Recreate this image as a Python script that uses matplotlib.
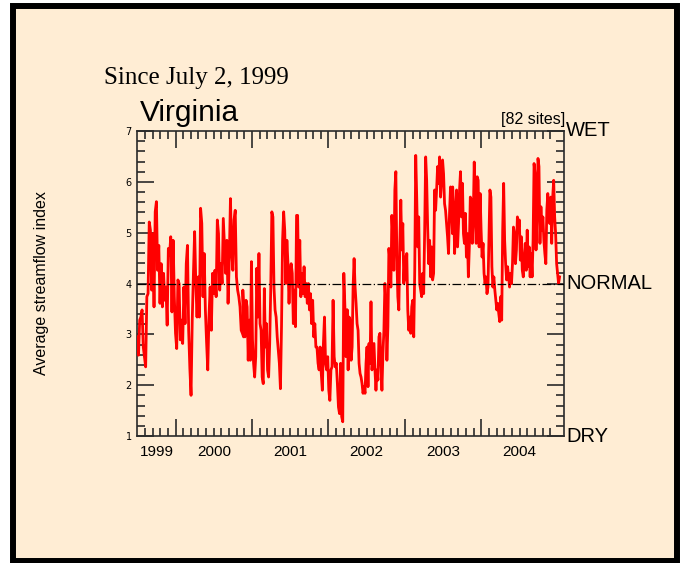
import numpy as np
import matplotlib
matplotlib.use("Agg")
import matplotlib.pyplot as plt
from matplotlib.patches import Rectangle

# average streamflow index, one list per stretch of time
flow_a = [2.95, 2.59, 3.28, 3.34, 3.48, 2.75, 2.56, 2.36, 3.74, 3.80, 5.21, 5.05,
          3.87, 4.98, 3.54, 5.41, 5.61, 4.26, 4.75, 3.61, 4.39, 3.54, 4.20, 3.67,
          3.93, 3.18, 4.69, 4.56, 4.92, 3.44, 4.85, 3.74, 3.02, 2.72, 4.07, 4.00,
          2.89, 3.28, 2.82, 3.93, 3.21, 4.39, 4.75, 3.08, 2.33, 1.80, 3.28, 4.20,
          5.02, 4.00, 3.34, 4.13, 3.34, 5.48, 5.18, 3.74, 4.59, 3.48, 2.85, 2.30,
          3.34, 3.93, 3.08, 4.20, 3.80, 4.26, 3.74, 5.25, 4.98, 3.87, 4.39, 4.00,
          5.28, 4.72, 4.20, 4.85, 3.61, 4.46, 5.67, 4.66, 4.26, 5.25, 5.44, 4.13,
          3.87, 3.74, 3.54, 3.08, 3.02, 2.95]
flow_b = [3.87, 3.08, 2.95, 3.67, 3.54, 2.49, 3.28, 2.49, 4.43, 2.89, 2.43, 2.16,
          2.56, 4.30, 3.34, 4.59, 3.21, 3.08, 2.16, 2.03, 3.90, 2.75, 3.21, 2.30,
          2.16, 2.82, 3.93, 5.41, 5.31, 3.93, 3.48, 3.34, 2.95, 2.69, 2.43, 1.93,
          3.15, 4.85, 5.41, 5.05, 4.00, 4.85, 4.39, 3.61, 4.26, 4.39, 4.20, 3.21,
          3.87, 3.15, 5.34, 5.34, 3.93, 4.85, 3.74, 4.20, 3.80, 4.33, 3.74, 4.00,
          3.61, 4.00, 3.48, 3.80, 3.21, 3.67, 2.95, 3.21, 2.75, 2.75, 2.43, 2.30,
          2.75, 2.23, 1.90, 2.82, 3.34, 2.43, 2.30, 2.56, 1.90, 1.70, 2.30, 2.36,
          3.67, 2.56, 2.36, 2.43, 2.03, 1.57, 1.44, 2.43, 1.38, 1.28, 4.20, 3.54,
          2.56, 3.48, 2.95]
flow_c = [3.48, 2.30, 3.34, 3.28, 2.49, 2.75, 3.93, 4.49, 3.93, 3.61, 3.21, 3.08,
          2.43, 2.23, 2.16, 2.03, 1.84, 1.97, 1.84, 2.43, 2.75, 1.97, 2.82, 2.43,
          3.64, 2.30, 2.56, 2.82, 2.30, 1.90, 2.30, 2.10, 2.95, 3.02, 2.43, 1.90,
          2.62, 3.08, 4.00, 3.61, 2.49, 3.15, 4.69, 4.46, 3.93, 5.34, 4.92, 4.26,
          5.84, 6.20, 4.52, 3.74, 3.48, 4.79, 5.64, 4.66, 5.18, 4.00, 4.52, 4.07,
          4.59, 3.48, 3.08, 3.34, 3.02, 3.54, 3.67, 2.95, 4.26, 6.52, 5.70, 4.72,
          5.31, 4.00, 3.87, 3.74, 4.20, 3.80, 5.05, 6.49, 6.03, 5.11, 4.39, 4.85,
          4.13, 4.72, 4.07, 4.20, 5.84, 5.44, 5.84, 6.30, 5.97, 6.49, 5.70, 6.03,
          6.43, 6.16, 5.57, 5.44, 5.18, 4.92, 4.59, 5.38, 5.90, 5.51, 4.98]
flow_d = [5.90, 5.51, 4.59, 5.31, 5.84, 4.72, 5.18, 5.84, 6.20, 5.31, 5.97, 4.98,
          4.79, 5.38, 4.52, 4.98, 4.13, 4.72, 5.70, 5.64, 4.79, 5.31, 6.39, 5.38,
          4.79, 6.10, 6.03, 4.72, 5.77, 5.05, 4.52, 4.79, 4.20, 4.00, 4.13, 3.80,
          3.93, 4.85, 5.84, 5.70, 4.33, 3.93, 4.13, 3.87, 3.67, 3.48, 3.61, 3.41,
          3.25, 3.74, 3.28, 5.05, 5.97, 4.85, 4.39, 4.07, 4.33, 4.13, 3.93, 4.20,
          4.00, 4.39, 5.11, 4.98, 4.39, 4.66, 5.31, 5.05, 5.25, 4.46, 4.92, 4.26,
          4.13, 4.52, 4.79, 4.26, 5.05, 4.33, 4.72, 4.13, 4.59, 4.13, 4.85, 6.36,
          6.16, 4.66, 5.31, 6.46, 6.30, 4.79, 5.51, 5.05, 5.31, 4.85, 4.59, 4.39,
          5.44, 5.77, 5.31, 5.18, 5.70, 4.79, 5.70, 6.03, 5.31, 4.98, 4.39, 4.20,
          4.00, 4.13]

# decimal-year span covered by each list
span_a = (1999.500, 2000.890)
span_b = (2000.880, 2002.257)
span_c = (2002.244, 2003.622)
span_d = (2003.624, 2005.022)

years = [1999, 2000, 2001, 2002, 2003, 2004]
normal = 4
n_sites = 82

bg = "#FFEDD4"
tick_col = "#2a2a2a"

t = np.concatenate([np.linspace(s[0], s[1], len(v)) for s, v in
                    [(span_a, flow_a), (span_b, flow_b), (span_c, flow_c), (span_d, flow_d)]])
flow = np.concatenate([flow_a, flow_b, flow_c, flow_d])

fig = plt.figure(figsize=(6.8, 5.63), dpi=100, facecolor="white")
# beige panel with the thick black frame, kept behind the axes
fig.patches.append(Rectangle((13 / 680, 1 - 560.5 / 563), 664 / 680, 554.2 / 563,
                             transform=fig.transFigure, facecolor=bg,
                             edgecolor="black", lw=4.3, zorder=-10))

ax = fig.add_axes([137.3 / 680, 1 - 436 / 563, 426.7 / 680, 305 / 563])
ax.set_zorder(2)
ax.set_facecolor(bg)

ax.plot(t, flow, color="#FF0000", lw=2.0, zorder=3)
ax.axhline(normal, color="black", lw=0.9, ls=(0, (7, 2, 1, 2)), zorder=4)

ax.set_xlim(1999.5, 2005.08)
ax.set_ylim(1, 7)

# ticks: years as majors, tenths of a year as minors, all pointing in
ax.set_xticks(years[1:])
ax.set_xticks([y / 10 for y in range(19996, 20051) if y % 10 != 0], minor=True)
ax.set_xticklabels([])
ax.set_yticks(range(1, 8))
ax.set_yticks([y / 10 for y in range(10, 71, 2) if y % 10 != 0], minor=True)
ax.tick_params(which="both", direction="in", top=True, right=True,
               color=tick_col, width=1.2)
ax.tick_params(which="major", length=12.5)
ax.tick_params(which="minor", length=6)
ax.tick_params(axis="y", which="major", labelsize=7, pad=4)
for sp in ax.spines.values():
    sp.set_color(tick_col)
    sp.set_linewidth(1.2)

# year labels sit in the middle of each year
for y in years:
    mid = max(y, 1999.5) + (0.5 if y > 1999 else 0.25)
    ax.text(mid, -0.03, str(y), transform=ax.get_xaxis_transform(),
            ha="center", va="top", fontsize=11, family="Liberation Sans")

ax.text(1.005, 1.0, "WET", transform=ax.transAxes, ha="left", va="center",
        fontsize=14.5, family="Liberation Sans")
ax.text(1.005, (normal - 1) / 6, "NORMAL", transform=ax.transAxes, ha="left",
        va="center", fontsize=14.5, family="Liberation Sans")
ax.text(1.005, 0.0, "DRY", transform=ax.transAxes, ha="left", va="center",
        fontsize=14.5, family="Liberation Sans")
ax.text(1.003, 1.012, "[%d sites]" % n_sites, transform=ax.transAxes, ha="right",
        va="bottom", fontsize=11.5, family="Liberation Sans")

fig.text(140 / 680, 1 - 113 / 563, "Virginia", ha="left", va="center",
         fontsize=21.5, family="Liberation Sans")
fig.text(104 / 680, 1 - 78 / 563, "Since July 2, 1999", ha="left", va="center",
         fontsize=18, family="Liberation Serif")
fig.text(42 / 680, 1 - 283 / 563, "Average streamflow index", rotation=90,
         ha="center", va="center", fontsize=11.5, family="Liberation Sans")

fig.savefig("out.png", dpi=100, facecolor=fig.get_facecolor())
